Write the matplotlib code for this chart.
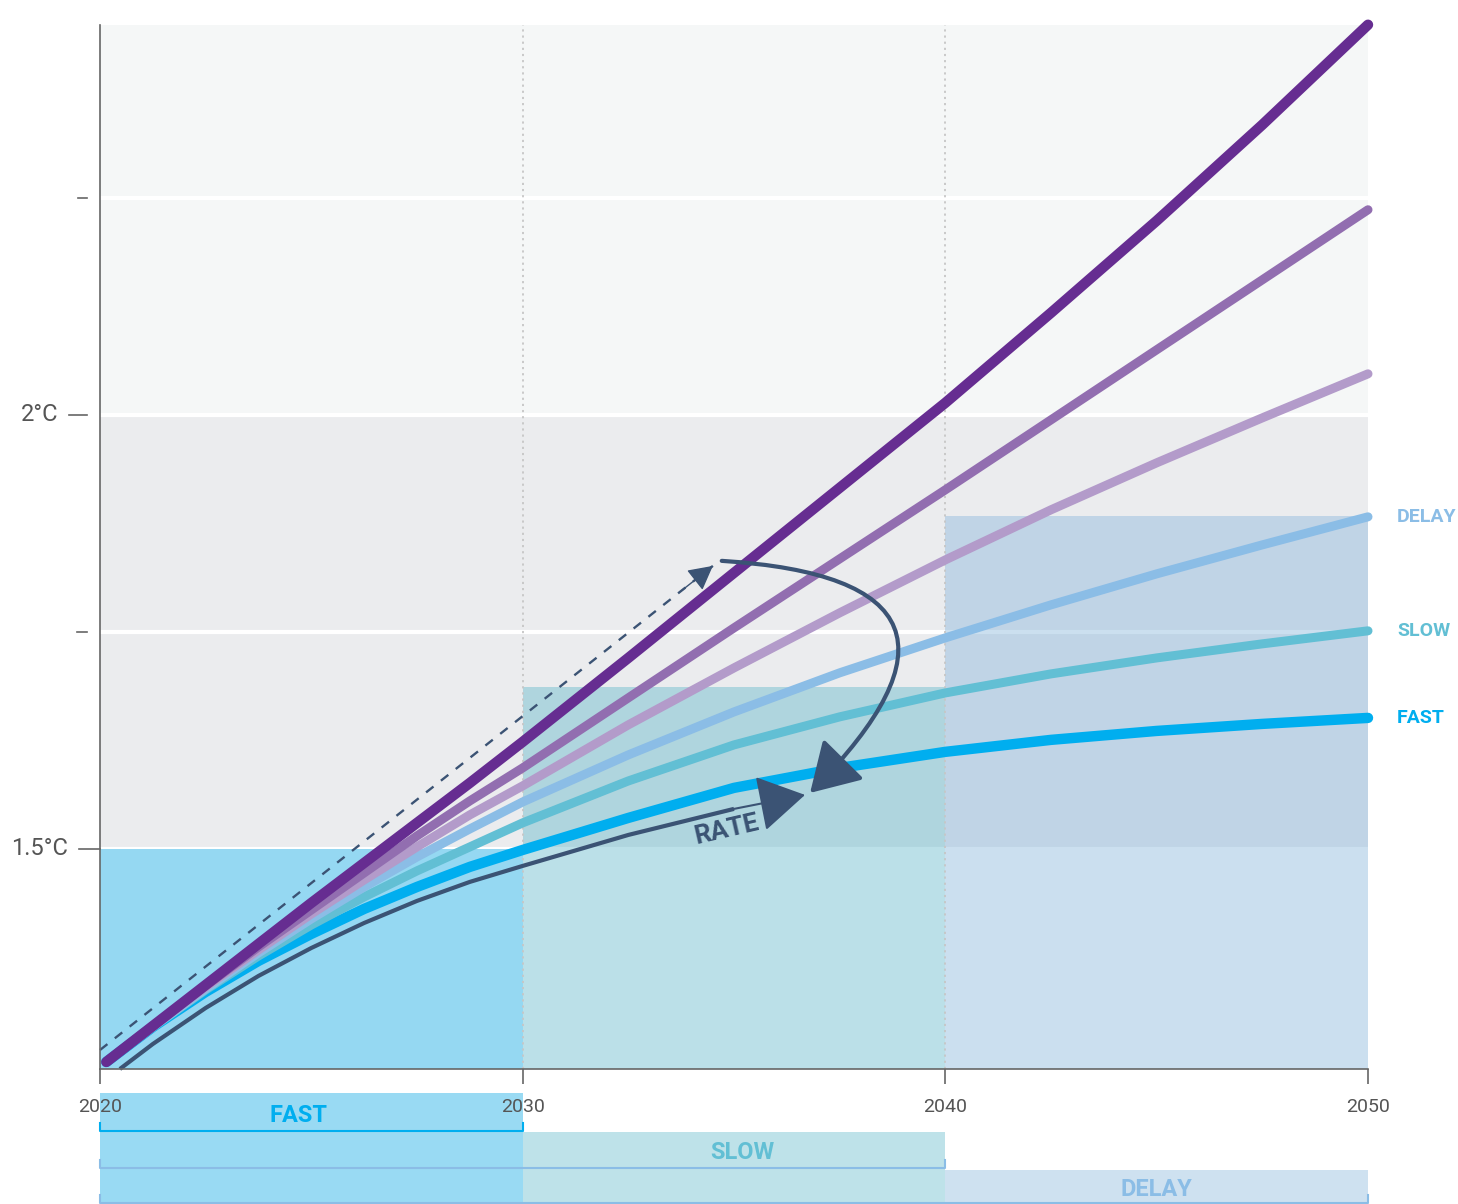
import matplotlib
matplotlib.use('Agg')
import matplotlib.pyplot as plt
import matplotlib.transforms as mtransforms
from matplotlib.patches import FancyArrowPatch, ArrowStyle

plt.rcParams['font.family'] = ['Roboto', 'DejaVu Sans']

# --- data (temperature in °C) ---
years = [2020.15, 2021.25, 2022.5, 2023.75, 2025, 2026.25, 2027.5, 2028.75,
         2030, 2032.5, 2035, 2037.5, 2040, 2042.5, 2045, 2047.5, 2050]
path_high = [1.2546, 1.2961, 1.3433, 1.3906, 1.4378, 1.4839, 1.5300, 1.5760,
             1.6233, 1.7200, 1.8180, 1.9159, 2.0138, 2.1175, 2.2235, 2.3341, 2.4493]
path_mid = [1.2546, 1.2961, 1.3422, 1.3871, 1.4297, 1.4724, 1.5150, 1.5553,
            1.5933, 1.6740, 1.7546, 1.8341, 1.9136, 1.9942, 2.0749, 2.1555, 2.2362]
path_low = [1.2546, 1.2961, 1.3410, 1.3836, 1.4251, 1.4643, 1.5023, 1.5392,
            1.5726, 1.6429, 1.7085, 1.7719, 1.8329, 1.8906, 1.9447, 1.9965, 2.0472]
delay = [1.2546, 1.2949, 1.3387, 1.3802, 1.4194, 1.4562, 1.4908, 1.5230,
         1.5541, 1.6083, 1.6578, 1.7028, 1.7431, 1.7811, 1.8168, 1.8502, 1.8825]
slow = [1.2546, 1.2949, 1.3376, 1.3767, 1.4124, 1.4447, 1.4747, 1.5023,
        1.5300, 1.5783, 1.6198, 1.6521, 1.6797, 1.7016, 1.7200, 1.7362, 1.7512]
fast = [1.2546, 1.2949, 1.3353, 1.3710, 1.4021, 1.4309, 1.4562, 1.4793,
        1.4988, 1.5357, 1.5703, 1.5933, 1.6118, 1.6256, 1.6359, 1.6440, 1.6509]

rate_years = [2020.47, 2021.25, 2022.5, 2023.75, 2025, 2026.25, 2027.5,
              2028.75, 2030, 2032.5, 2035]
rate_vals = [1.2465, 1.2753, 1.3168, 1.3537, 1.3859, 1.4147, 1.4401,
             1.4620, 1.4804, 1.5161, 1.5461]
rate_tip = (2036.68, 1.5622)

dashed_start = (2020.0, 1.2684)
dashed_tip = (2034.50, 1.8260)
loop_start = (2034.71, 1.8318)
loop_end = (2036.80, 1.5645)

phase_names = ['FAST', 'SLOW', 'DELAY']
phase_start = [2020, 2030, 2040]
phase_top = [1.5, 1.6866, 1.8836]
label_centers = [2024.7, 2035.2, 2045.0]
bracket_end = [2030, 2040, 2050]

ytick_vals = [1.5, 1.75, 2.0, 2.25]
ytick_labels = ['1.5°C', '', '2°C', '']

# --- styles ---
navy = '#3b5374'
phase_colors = ['#00aeef', '#62bfd4', '#8bbde6']
box_colors = ['#02a4e2', '#5db7ca', '#85b5db']
bracket_colors = ['#00aeef', '#8bbde6', '#8bbde6']

fig = plt.figure(figsize=(14.58, 12.04), dpi=100)
ax = fig.add_axes([100 / 1458, 135 / 1204, 1268 / 1458, 1044 / 1204])
ax.set_xlim(2020, 2050)
ax.set_ylim(1.2465, 2.449)
ymin, ymax = ax.get_ylim()

# background bands and white grid lines
ax.axhspan(1.5, 2.0, color='#ebecee', lw=0, zorder=0)
ax.axhspan(2.0, ymax, color='#f5f7f7', lw=0, zorder=0)
for y in ytick_vals:
    ax.axhline(y, color='white', lw=3, zorder=0.5)

# phase boxes
for x0, top, c in zip(phase_start, phase_top, box_colors):
    ax.bar(x0, top - ymin, bottom=ymin, width=10, align='edge',
           color=c, alpha=0.42, lw=0, zorder=1)

for x in [2030, 2040]:
    ax.axvline(x, color='#c6c6c6', ls=(0, (1.2, 2.2)), lw=1.3, zorder=2)

# scenario curves
curves = [(fast, '#00aeef', 7.5), (slow, '#62bfd4', 6.5),
          (delay, '#8bbde6', 6.5), (path_low, '#b39bca', 6.5),
          (path_mid, '#926eb0', 6.5), (path_high, '#662d91', 7.5)]
for i, (vals, c, lw) in enumerate(curves):
    ax.plot(years, vals, color=c, lw=lw, solid_capstyle='round',
            solid_joinstyle='round', zorder=4 + i * 0.1, clip_on=False)

# right-hand labels
for name, vals, c in zip(['FAST', 'SLOW', 'DELAY'], [fast, slow, delay], phase_colors):
    ax.text(2050.69, vals[-1], name, color=c, fontsize=14, fontweight='bold',
            ha='left', va='center', clip_on=False)

# rate arrow
ax.plot(rate_years, rate_vals, color=navy, lw=3, solid_capstyle='butt',
        solid_joinstyle='round', zorder=6, clip_on=False)
head = ArrowStyle('-|>', head_length=30, head_width=18)
ax.add_patch(FancyArrowPatch((rate_years[-1], rate_vals[-1]), rate_tip,
                             arrowstyle=head, mutation_scale=1, lw=1.5,
                             color=navy, shrinkA=0, shrinkB=0, zorder=7))
ax.text(2034.83, 1.5219, 'RATE', rotation=13, ha='center', va='center',
        fontsize=19, fontweight='bold', color=navy, zorder=7)

# dashed straight-line arrow
ax.plot([dashed_start[0], dashed_tip[0]], [dashed_start[1], dashed_tip[1]],
        color=navy, lw=1.7, ls=(0, (4, 4)), zorder=6, clip_on=False)
pre = (dashed_tip[0] - 0.05 * (dashed_tip[0] - dashed_start[0]),
       dashed_tip[1] - 0.05 * (dashed_tip[1] - dashed_start[1]))
ax.add_patch(FancyArrowPatch(pre, dashed_tip,
                             arrowstyle=ArrowStyle('-|>', head_length=15, head_width=8),
                             mutation_scale=1, lw=1, color=navy,
                             shrinkA=0, shrinkB=0, zorder=7))

# curved loop arrow
ax.add_patch(FancyArrowPatch(loop_start, loop_end, arrowstyle=head,
                             connectionstyle='arc3,rad=-1.1', mutation_scale=1,
                             lw=3, color=navy, shrinkA=0, shrinkB=0, zorder=7))

# axes styling
for s in ['top', 'right']:
    ax.spines[s].set_visible(False)
for s in ['left', 'bottom']:
    ax.spines[s].set_color('#666666')
    ax.spines[s].set_linewidth(1.2)
    ax.spines[s].set_zorder(8)
ax.set_xticks([2020, 2030, 2040, 2050])
ax.tick_params(axis='x', direction='out', length=11, width=1.2, color='#666666',
               labelsize=14, labelcolor='#555555', pad=10)
ax.set_yticks([])

trans = mtransforms.blended_transform_factory(ax.transAxes, ax.transData)
tick_px = [(79, 100), (77, 87), (69, 87), (78, 87)]
for y, lab, (p0, p1) in zip(ytick_vals, ytick_labels, tick_px):
    ax.plot([(p0 - 100) / 1268, (p1 - 100) / 1268], [y, y], transform=trans,
            color='#666666', lw=1.2, clip_on=False)
    if lab:
        ax.text((p0 - 111) / 1268, y, lab, transform=trans, ha='right',
                va='center', fontsize=17, color='#555555')

# phase legend strip under the axis
ax2 = fig.add_axes([100 / 1458, 0, 1268 / 1458, 111 / 1204])
ax2.set_xlim(2020, 2050)
ax2.set_ylim(3, 0)
ax2.axis('off')
ax.set_zorder(2)
bar_tops = [0, 1.05, 2.08]
label_y = [0.6, 1.6, 2.62]
bracket_y = [1.03, 2.03, 2.97]
for i, name in enumerate(phase_names):
    ax2.bar(phase_start[i], 3 - bar_tops[i], bottom=bar_tops[i], width=10,
            align='edge', color=box_colors[i], alpha=0.4, lw=0, zorder=1)
    ax2.text(label_centers[i], label_y[i], name, ha='center', va='center',
             fontsize=17, fontweight='bold', color=phase_colors[i], zorder=3)
    yb = bracket_y[i]
    ax2.plot([2020, 2020, bracket_end[i], bracket_end[i]], [yb - 0.22, yb, yb, yb - 0.22],
             color=bracket_colors[i], lw=1.5, zorder=2, clip_on=False)

fig.savefig('out.png', dpi=100)
